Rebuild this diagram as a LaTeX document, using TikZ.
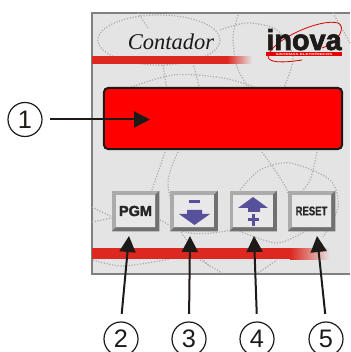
\documentclass[tikz,border=0pt]{standalone}
\usepackage{fontspec}
\setmainfont{Liberation Sans}
\newfontfamily\titlefont{Liberation Serif}
\newfontfamily\heavyfont{Liberation Sans}[BoldFeatures={FakeBold=2.5}]
\newfontfamily\mediumfont{Liberation Sans}[BoldFeatures={FakeBold=0.8}]
\usetikzlibrary{arrows.meta}
\definecolor{panelgray}{HTML}{E4E4E4}
\definecolor{panelline}{HTML}{808080}
\definecolor{stripred}{HTML}{DC2820}
\definecolor{bevellight}{HTML}{ABABAB}
\definecolor{beveldark}{HTML}{707070}
\definecolor{buttonface}{HTML}{E8E8E8}
\definecolor{iconblue}{HTML}{57509A}
\definecolor{inkblack}{HTML}{1E1A18}
\begin{document}
\begin{tikzpicture}[x=0.025cm, y=-0.025cm,
	marker/.style = {draw=inkblack, circle, line width=0.03cm, minimum size=0.85cm, inner sep=0pt, font=\fontsize{18}{18}\selectfont, text=inkblack},
	pointer/.style = {draw=inkblack, line width=0.05cm, shorten <=0.19cm, -{Triangle[length=0.4cm, width=0.4cm]}},
	dots/.style = {draw=black!32, line width=0.03cm, dash pattern=on 0.03cm off 0.04cm},
	button/.style = {fill=bevellight, minimum width=1.175cm, minimum height=1cm, inner sep=0pt},
	keytext/.style = {text=black!85, inner sep=0pt}]
	\useasboundingbox (0,0) rectangle (350,352);
	\fill[panelgray] (92,13) rectangle (350,274);
	\draw[panelline, line width=0.04cm] (350,13) -- (92,13) -- (92,274) -- (350,274);

	\draw[dots] (159,40) ellipse [x radius=61, y radius=25];
	\draw[dots] plot[smooth] coordinates {(220,30) (247,23) (277,30) (293,57) (283,90)};
	\draw[dots] plot[smooth] coordinates {(238,15) (233,37) (237,67) (250,90)};
	\draw[dots] plot[smooth] coordinates {(123,90) (173,75) (223,78) (257,88)};
	\draw[dots] (138,13) -- (148,28);
	\draw[dots] (333,13) -- (350,43);
	\draw[dots] (163,65) -- (167,90);
	\draw[dots] (193,63) -- (200,90);
	\draw[dots] plot[smooth] coordinates {(240,190) (260,170) (290,163) (330,180) (338,207) (323,237)};
	\draw[dots] plot[smooth] coordinates {(178,152) (168,183) (180,230) (210,267)};
	\draw[dots] (165,152) -- (152,190);
	\draw[dots] plot[smooth] coordinates {(262,152) (287,190) (290,223)};
	\draw[dots] plot[smooth] coordinates {(317,152) (310,180) (297,197)};
	\draw[dots] (92,207) -- (112,217);
	\draw[dots] (92,222) -- (112,218);
	\draw[dots] plot[smooth] coordinates {(160,220) (190,233) (230,230) (277,210)};
	\draw[dots] plot[smooth] coordinates {(237,230) (277,243) (307,230)};
	\draw[dots] plot[smooth] coordinates {(93,260) (123,266) (170,259)};
	\draw[dots] (200,260) -- (222,273);
	\draw[dots] (258,273) -- (277,260);

	\fill[stripred] (92,56.5) rectangle (227,64);
	\shade[left color=stripred, right color=panelgray] (227,56.5) rectangle (252,64);
	\fill[stripred] (92,248) rectangle (290,259);
	\shade[left color=stripred, right color=panelgray] (290,248) rectangle (330,259);

	\node[font=\titlefont\itshape\fontsize{16}{16}\selectfont, text=black!90, inner sep=0pt] (title) at (171,42) {Contador};

	\draw[red!85!black, line width=0.02cm] (268,56) .. controls (272,40) and (320,18) .. (338,23) .. controls (346,26) and (340,42) .. (322,48);
	\draw[red!85!black, line width=0.02cm] (268,56) .. controls (268,63) and (282,63) .. (302,60);
	\node[font=\heavyfont\bfseries\fontsize{20.5}{20.5}\selectfont, text=inkblack, inner sep=0pt, anchor=base] (logo) at (304,50) {inova};
	\node[fill=red!90!black, minimum width=1.9cm, minimum height=0.1cm, inner sep=0pt, text=white, font=\bfseries\fontsize{2}{2}\selectfont] (tagline) at (304,54) {\scalebox{1.6}[1]{SISTEMAS ELETRÔNICOS}};

	\node[draw=inkblack, fill=red, line width=0.05cm, rounded corners=0.1cm, minimum width=5.95cm, minimum height=1.525cm] (display) at (223,118.5) {};

	\node[button] (pgm) at (135.5,211) {};
	\node[button] (minus) at (194,211) {};
	\node[button] (plus) at (253,211) {};
	\node[button] (reset) at (311.5,211) {};
	\foreach \key in {pgm,minus,plus,reset} {
		\fill[beveldark] (\key.south west) -- (\key.south east) -- (\key.north east) -- ([shift={(-4,4)}]\key.north east) -- ([shift={(-4,-4)}]\key.south east) -- ([shift={(4,-4)}]\key.south west) -- cycle;
		\fill[buttonface] ([shift={(4,4)}]\key.north west) rectangle ([shift={(-4,-4)}]\key.south east);
	}
	\node[keytext, font=\heavyfont\bfseries\fontsize{10.3}{10.3}\selectfont] at (pgm) {PGM};
	\node[keytext, font=\mediumfont\bfseries\fontsize{9}{9}\selectfont] at (reset) {\scalebox{.75}[1]{RESET}};
	\fill[iconblue] (189,200) rectangle (200,203);
	\fill[iconblue] (187,210) -- (202,210) -- (202,214) -- (210,214) -- (194.5,225) -- (179,214) -- (187,214) -- cycle;
	\fill[iconblue] (253,197) -- (268,208) -- (260,208) -- (260,212) -- (248,212) -- (248,208) -- (238,208) -- cycle;
	\fill[iconblue] (247.5,218.5) rectangle (258.5,221.5);
	\fill[iconblue] (251.5,214.5) rectangle (254.5,225.5);

	\node[marker] (n1) at (25,119.5) {1};
	\node[marker] (n2) at (121,339) {2};
	\node[marker] (n3) at (189,339) {3};
	\node[marker] (n4) at (257,339) {4};
	\node[marker] (n5) at (326,339) {5};
	\coordinate (t1) at (150,119.5);
	\coordinate (t2) at (129,236);
	\coordinate (t3) at (190,236);
	\coordinate (t4) at (254,236);
	\coordinate (t5) at (317,236);
	\draw[pointer] (n1) -- (t1);
	\draw[pointer] (n2.north) -- (t2);
	\draw[pointer] (n3.north) -- (t3);
	\draw[pointer] (n4.north) -- (t4);
	\draw[pointer] (n5.north) -- (t5);
\end{tikzpicture}
\end{document}
